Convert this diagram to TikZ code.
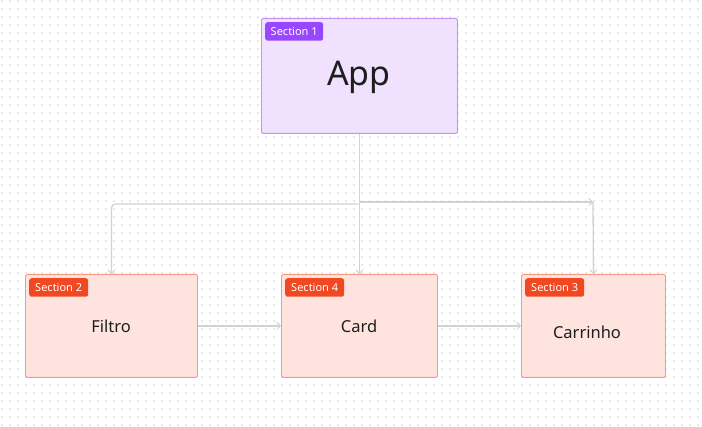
\documentclass[tikz,border=0pt]{standalone}
\usepackage{fontspec}
\setmainfont{Noto Sans}
\usetikzlibrary{arrows.meta}
\definecolor{dotc}{HTML}{E9E9E9}
\definecolor{linec}{HTML}{D2D2D2}
\definecolor{pfill}{HTML}{F0E2FE}
\definecolor{pdraw}{HTML}{C490F6}
\definecolor{pbadge}{HTML}{9747FF}
\definecolor{ofill}{HTML}{FFE3DE}
\definecolor{odraw}{HTML}{F7987F}
\definecolor{obadge}{HTML}{F24822}
\definecolor{txt}{HTML}{1E1E1E}
\tikzset{
  sect/.style={draw, line width=0.9pt, rounded corners=1.5pt, anchor=north west, inner sep=0pt},
  purplebox/.style={sect, fill=pfill, draw=pdraw},
  orangebox/.style={sect, fill=ofill, draw=odraw},
  badge/.style={anchor=north west, rounded corners=2.5pt, inner sep=0pt, minimum height=18.5pt, text=white, font=\fontsize{11}{11}\selectfont},
  lbl/.style={text=txt, inner sep=0pt},
  conn/.style={draw=linec, line width=1.3pt},
  tip/.style={-{Straight Barb[length=3.5pt,width=7pt,line width=1pt]}}
}
\begin{document}
\begin{tikzpicture}[x=1pt,y=-1pt]
\useasboundingbox (0,0) rectangle (702,427);
\fill[white] (0,0) rectangle (702,427);
% dot grid
\foreach \i in {0,...,87}{
  \foreach \j in {0,...,53}{
    \fill[dotc] ({0.5+8*\i},{0.5+8*\j}) rectangle ++(2,2);
  }
}
% section boxes
\node[purplebox, minimum width=196pt, minimum height=115pt] (app) at (261,18) {};
\node[orangebox, minimum width=172pt, minimum height=103pt] (filtro) at (25,274) {};
\node[orangebox, minimum width=156pt, minimum height=103pt] (card) at (281,274) {};
\node[orangebox, minimum width=144pt, minimum height=103pt] (carrinho) at (521,274) {};
% badges
\node[badge, fill=pbadge, minimum width=58pt] (b1) at (265,22) {Section 1};
\node[badge, fill=obadge, minimum width=59pt] (b2) at (29,278) {Section 2};
\node[badge, fill=obadge, minimum width=59pt] (b4) at (285,278) {Section 4};
\node[badge, fill=obadge, minimum width=59pt] (b3) at (525,278) {Section 3};
% labels
\node[lbl, font=\fontsize{34}{34}\selectfont] (tapp) at (359,77) {App};
\node[lbl, font=\fontsize{16.5}{16.5}\selectfont] (tfiltro) at (111,326) {Filtro};
\node[lbl, font=\fontsize{16.5}{16.5}\selectfont] (tcard) at (359,326) {Card};
\node[lbl, font=\fontsize{16.5}{16.5}\selectfont] (tcarrinho) at (587,332) {Carrinho};
% connector junctions
\coordinate (jl) at (358,204);
\coordinate (jr) at (359,202);
\coordinate (cr) at (593,202);
% connectors
\draw[conn, tip] (app.south) -- (card.north);
\draw[conn, tip, rounded corners=4pt] (jl) -| (filtro.north);
\draw[conn, tip] (jr) -- (cr);
\draw[conn, tip] (cr) -- (carrinho.north);
\draw[conn, tip] (filtro.east) -- (card.west);
\draw[conn, tip] (card.east) -- (carrinho.west);
\end{tikzpicture}
\end{document}
